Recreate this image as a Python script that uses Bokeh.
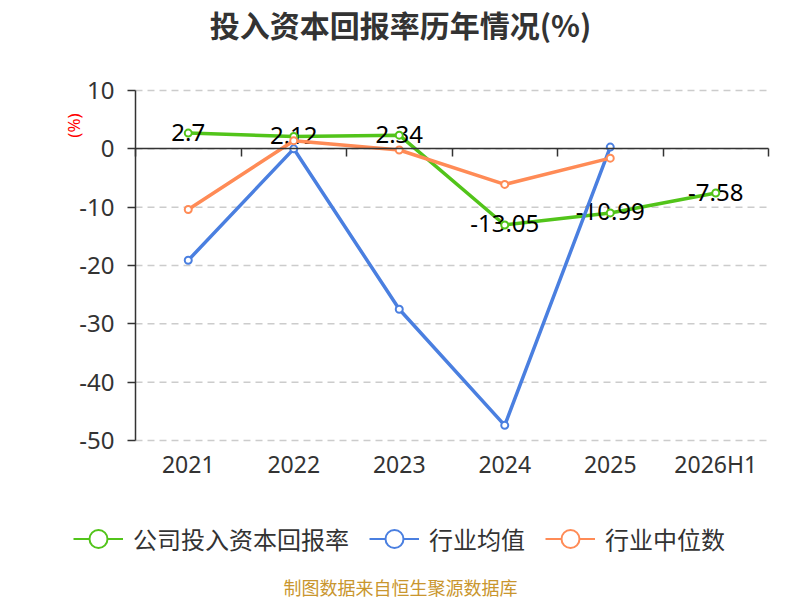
import math
from bokeh.plotting import figure
from bokeh.models import (Range1d, FixedTicker, Label, Legend, LegendItem,
                          LinearAxis)
from bokeh.core.properties import value
from bokeh.embed import file_html
from bokeh.resources import INLINE

# ---------------- data ----------------
categories = ["2021", "2022", "2023", "2024", "2025", "2026H1"]
company = [2.7, 2.12, 2.34, -13.05, -10.99, -7.58]
industry_mean = [-19.1, 0.0, -27.5, -47.4, 0.3]
industry_median = [-10.4, 1.4, -0.2, -6.1, -1.6]
y_ticks = [-50, -40, -30, -20, -10, 0, 10]
series_names = ["公司投入资本回报率", "行业均值", "行业中位数"]
title_text = "投入资本回报率历年情况(%)"
unit_text = "(%)"
source_text = "制图数据来自恒生聚源数据库"

# ---------------- style / layout ----------------
GREEN = "#52c41a"
BLUE = "#4a7fe0"
ORANGE = "#ff8b56"
AXIS = "#333333"
CJK = "Noto Sans CJK SC"
LAT = "Noto Sans"

W, H = 800, 600
PLOT_L, PLOT_R, PLOT_T, PLOT_B = 135, 768, 90, 440   # plot area in px
Y0, Y1 = y_ticks[0], y_ticks[-1]
n = len(categories)
PX_CAT = (PLOT_R - PLOT_L) / n
PPU = (PLOT_B - PLOT_T) / (Y1 - Y0)
x_start = -PLOT_L / PX_CAT
x_end = n + (W - PLOT_R) / PX_CAT
y_end = Y1 + PLOT_T / PPU
y_start = Y0 - (H - PLOT_B) / PPU


def X(px):
    return x_start + px / PX_CAT


def Y(py):
    return y_end - py / PPU


xc = [i + 0.5 for i in range(n)]          # category centres
edges = list(range(n + 1))                 # category boundaries

p = figure(width=W, height=H, x_range=Range1d(x_start, x_end),
           y_range=Range1d(y_start, y_end), x_axis_type=None,
           y_axis_type=None, min_border=0, title=None,
           output_backend="svg", toolbar_location=None)
p.outline_line_color = None
p.background_fill_color = "white"
p.border_fill_color = "white"

# dashed horizontal grid across the plot area
p.segment(x0=[0] * len(y_ticks), y0=y_ticks, x1=[n] * len(y_ticks),
          y1=y_ticks, line_color="#cccccc", line_width=1.5,
          line_dash="7 5")

# y axis at the left edge of the category band
yax = LinearAxis(fixed_location=0, bounds=(Y0, Y1),
                 ticker=FixedTicker(ticks=y_ticks),
                 major_label_overrides={t: str(t) for t in y_ticks})
yax.axis_line_color = AXIS
yax.axis_line_width = 1.5
yax.major_tick_line_color = AXIS
yax.major_tick_line_width = 1.5
yax.major_tick_out = 8
yax.major_tick_in = 0
yax.minor_tick_line_color = None
yax.major_label_text_font = LAT
yax.major_label_text_font_size = "24px"
yax.major_label_text_color = AXIS
yax.major_label_standoff = 13
p.add_layout(yax, "left")

# x axis line at zero with boundary ticks
x0ax = LinearAxis(fixed_location=0, bounds=(0, n),
                  ticker=FixedTicker(ticks=edges),
                  major_label_overrides={e: "" for e in edges})
x0ax.axis_line_color = AXIS
x0ax.axis_line_width = 1.5
x0ax.major_tick_line_color = AXIS
x0ax.major_tick_line_width = 1.5
x0ax.major_tick_out = 8
x0ax.major_tick_in = 0
x0ax.minor_tick_line_color = None
x0ax.major_label_text_color = None
p.add_layout(x0ax, "below")

# category labels along the bottom of the plot area
xlab = LinearAxis(fixed_location=Y0, bounds=(0, n),
                  ticker=FixedTicker(ticks=xc),
                  major_label_overrides={x: c for x, c in zip(xc, categories)})
xlab.axis_line_color = None
xlab.major_tick_line_color = None
xlab.minor_tick_line_color = None
xlab.major_label_text_font = LAT
xlab.major_label_text_font_size = "23px"
xlab.major_label_text_color = AXIS
xlab.major_label_standoff = 1
p.add_layout(xlab, "below")

colors = [GREEN, BLUE, ORANGE]
series = [company, industry_mean, industry_median]
legend_items = []
for i, (name, color, vals) in enumerate(zip(series_names, colors, series)):
    xs = xc[:len(vals)]
    p.line(x=xs, y=vals, line_color=color, line_width=3.5)
    if i == 0:
        p.text(x=xs, y=vals, text=[f"{v:g}" for v in vals],
               text_align="center", text_baseline="middle",
               text_font=value(LAT), text_font_size="24px",
               text_color="#000000", y_offset=-1)
    p.scatter(x=xs, y=vals, size=7, fill_color="white",
              line_color=color, line_width=2)
    # legend-only renderers (hidden) carrying the same series
    lr = p.line(x=xs, y=vals, line_color=color, line_width=2, visible=False)
    sr = p.scatter(x=xs, y=vals, size=18, fill_color="white",
                   line_color=color, line_width=2, visible=False)
    legend_items.append(LegendItem(label=name, renderers=[lr, sr]))

legend_h = 45
legend = Legend(items=legend_items, orientation="horizontal",
                location=(73, H - (538 + legend_h / 2)),
                glyph_width=50, glyph_height=legend_h, label_standoff=10,
                spacing=20, padding=0, margin=0,
                border_line_color=None, background_fill_alpha=0,
                label_text_font=CJK, label_text_font_size="24px",
                label_text_color=AXIS)
p.add_layout(legend)

p.add_layout(Label(x=X(400), y=Y(23), text=title_text, text_font=CJK,
                   text_font_size="30px", text_font_style="bold",
                   text_color=AXIS, text_align="center",
                   text_baseline="middle"))
p.add_layout(Label(x=X(73), y=Y(125), text=unit_text, text_font=LAT,
                   text_font_size="17px", text_color="#ff0000",
                   text_align="center", text_baseline="middle",
                   angle=math.pi / 2))
p.add_layout(Label(x=X(400), y=Y(586), text=source_text, text_font=CJK,
                   text_font_size="18px", text_color="#c9962e",
                   text_align="center", text_baseline="middle"))

open("out.html", "w").write(file_html(p, INLINE))
